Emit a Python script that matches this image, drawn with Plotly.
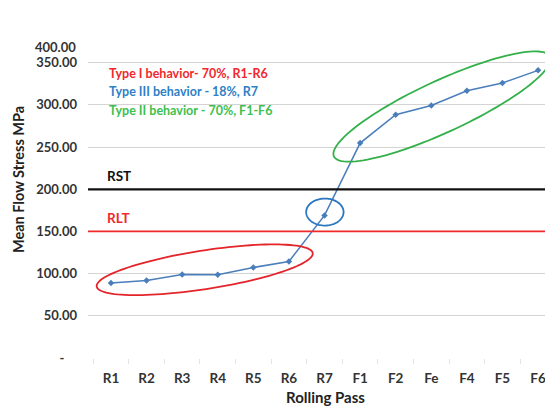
import numpy as np
import plotly.graph_objects as go

# ---- data ----
passes = ["R1", "R2", "R3", "R4", "R5", "R6", "R7", "F1", "F2", "Fe", "F4", "F5", "F6"]
flow_stress = [88.8, 91.9, 99.0, 98.7, 107.3, 114.4, 169.0, 254.8, 288.4, 299.4, 316.8, 326.0, 341.0]
rst_value = 200
rlt_value = 150
y_tick_vals = [0, 50, 100, 150, 200, 250, 300, 350]
y_tick_text = ["-\u00a0\u00a0\u00a0\u00a0", "50.00", "100.00", "150.00", "200.00", "250.00", "300.00", "350.00"]

# ---- layout geometry (page body has an 8px margin) ----
OFF = 8
W, H = 553 - OFF, 407 - OFF
ML, MR, MT, MB = 88 - OFF, 0, 29 - OFF, 49
XR = [-0.646, 12.42]
YR = [0, 390]
PW = W - ML - MR
PH = H - MT - MB
px_per_x = PW / (XR[1] - XR[0])
px_per_y = PH / (YR[1] - YR[0])
FONT = "Lato"


def ellipse_path(cx, cy, a_px, b_px, ang_deg, n=120):
    t = np.linspace(0, 2 * np.pi, n)
    th = np.deg2rad(ang_deg)
    u = a_px * np.cos(t)
    v = b_px * np.sin(t)
    dx = u * np.cos(th) - v * np.sin(th)
    dy = u * np.sin(th) + v * np.cos(th)
    xs = cx + dx / px_per_x
    ys = cy + dy / px_per_y
    pts = [f"{x:.4f},{y:.4f}" for x, y in zip(xs, ys)]
    return "M " + " L ".join(pts) + " Z"


def pxp(px):
    # screen pixel -> paper x
    return (px - OFF - ML) / PW


def pyp(py):
    # screen pixel -> paper y
    return (H - MB - (py - OFF)) / PH


fig = go.Figure()
x_idx = list(range(len(passes)))
fig.add_trace(go.Scatter(
    x=x_idx, y=flow_stress, mode="lines+markers",
    line=dict(color="#4a7ebb", width=1.5),
    marker=dict(symbol="diamond", size=5, color="#4a7ebb"),
    showlegend=False,
))

shapes = [
    dict(type="line", xref="paper", yref="y", x0=0, x1=1, y0=rst_value, y1=rst_value,
         line=dict(color="#111111", width=2.2)),
    dict(type="line", xref="paper", yref="y", x0=0, x1=1, y0=rlt_value, y1=rlt_value,
         line=dict(color="#ee2a2a", width=1.8)),
    dict(type="path", xref="x", yref="y", path=ellipse_path(2.633, 104.6, 109.3, 19.3, 8.8),
         line=dict(color="#e3242b", width=1.8)),
    dict(type="path", xref="x", yref="y", path=ellipse_path(6.01, 173.0, 18.7, 13.5, 0),
         line=dict(color="#2a78c0", width=1.8)),
    dict(type="path", xref="x", yref="y", path=ellipse_path(9.30, 298.1, 119, 25.8, 24.8),
         line=dict(color="#34b04a", width=1.8)),
]

ann = [
    dict(text="Type I behavior- 70%, R1-R6", color="#f0282d", px=107, py=73),
    dict(text="Type III behavior - 18%, R7", color="#2f7fc6", px=107, py=91.5),
    dict(text="Type II behavior - 70%, F1-F6", color="#3cc04e", px=107, py=110),
]
annotations = []
for a in ann:
    annotations.append(dict(
        text=a["text"], xref="paper", yref="paper", x=pxp(a["px"]), y=pyp(a["py"]),
        xanchor="left", yanchor="middle", showarrow=False,
        font=dict(family=FONT, size=12.5, color=a["color"], weight="bold"),
    ))
annotations.append(dict(text="RST", xref="paper", yref="paper", x=pxp(105), y=pyp(176),
                        xanchor="left", yanchor="middle", showarrow=False,
                        font=dict(family=FONT, size=13.5, color="#111111", weight="bold")))
annotations.append(dict(text="RLT", xref="paper", yref="paper", x=pxp(105), y=pyp(218),
                        xanchor="left", yanchor="middle", showarrow=False,
                        font=dict(family=FONT, size=13.5, color="#ee2a2a", weight="bold")))
annotations.append(dict(text="400.00", xref="paper", yref="paper", x=pxp(78), y=pyp(47),
                        xanchor="right", yanchor="middle", showarrow=False,
                        font=dict(family=FONT, size=13, color="#333333", weight="bold")))
annotations.append(dict(text="Mean Flow Stress MPa", xref="paper", yref="paper", x=pxp(18), y=pyp(180),
                        xanchor="center", yanchor="middle", showarrow=False, textangle=-90,
                        font=dict(family=FONT, size=14.5, color="#222222", weight="bold")))
annotations.append(dict(text="Rolling Pass", xref="paper", yref="paper", x=pxp(325), y=pyp(397),
                        xanchor="center", yanchor="middle", showarrow=False,
                        font=dict(family=FONT, size=15, color="#222222", weight="bold")))

fig.update_layout(
    width=W, height=H,
    margin=dict(l=ML, r=MR, t=MT, b=MB, autoexpand=False),
    paper_bgcolor="white", plot_bgcolor="white",
    shapes=shapes, annotations=annotations,
    font=dict(family=FONT, color="#333333"),
    xaxis=dict(
        range=XR, tickmode="array", tickvals=x_idx, ticktext=passes,
        showgrid=False, zeroline=False, showline=False, ticks="",
        tickfont=dict(family=FONT, size=13.5, color="#333333", weight="bold"),
        ticklabelstandoff=10, automargin=False,
        minor=dict(tickvals=[i + 0.5 for i in range(-1, len(passes))], ticks="outside",
                   ticklen=5, tickcolor="#e4e4e4", showgrid=False),
    ),
    yaxis=dict(
        range=YR, tickmode="array", tickvals=y_tick_vals, ticktext=y_tick_text,
        showgrid=True, gridcolor="#d4d4d4", gridwidth=1.3,
        zeroline=True, zerolinecolor="rgba(0,0,0,0)", showline=False, ticks="",
        tickfont=dict(family=FONT, size=13, color="#333333", weight="bold"),
        ticklabelstandoff=10, automargin=False,
    ),
)

fig.write_html("out.html")
